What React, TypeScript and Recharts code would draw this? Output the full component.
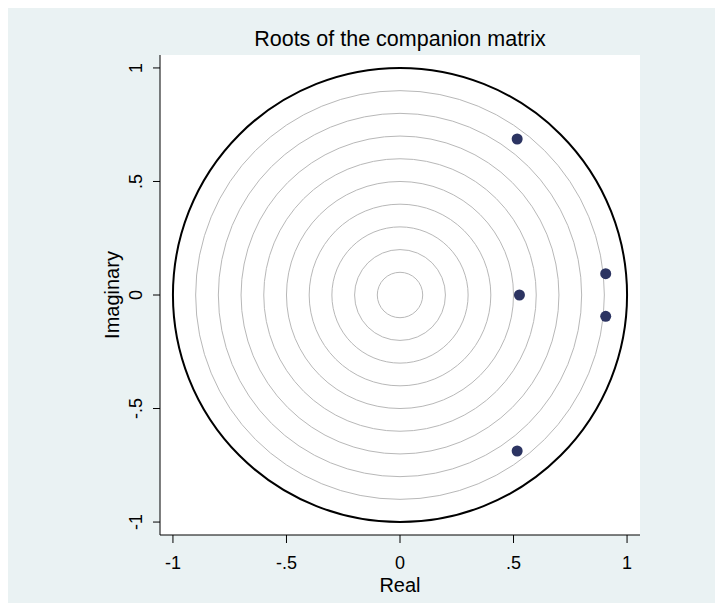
import { ScatterChart, Scatter, XAxis, YAxis, CartesianGrid, ReferenceDot } from "recharts";

// eigenvalues of the companion matrix (real / imaginary parts)
const realParts = [0.516, 0.906, 0.906, 0.526, 0.516];
const imagParts = [0.687, 0.094, -0.094, 0, -0.687];

const axisTicks = [-1, -0.5, 0, 0.5, 1];
const tickLabels = ["-1", "-.5", "0", ".5", "1"];

// grid circles and the unit circle
const ringRadii = [0.1, 0.2, 0.3, 0.4, 0.5, 0.6, 0.7, 0.8, 0.9];
const unitRadius = 1;

const roots = realParts.map((x, i) => ({ x, y: imagParts[i] }));

const W = 715;
const H = 595;
const MARGIN = { top: 47, right: 83, bottom: 0, left: 0 };
const Y_AXIS_W = 152;
const X_AXIS_H = 68;
const LIM = 1.057;
const PLOT_W = W - MARGIN.left - MARGIN.right - Y_AXIS_W;
const PX = PLOT_W / (2 * LIM); // pixels per unit on both axes

const FONT = '"Liberation Sans", Arial, Helvetica, sans-serif';
const fmt = (v: number) => tickLabels[axisTicks.indexOf(v)] ?? String(v);

function YTick(props: any) {
  const { x, y, payload } = props;
  const tx = x - 9;
  return (
    <text
      x={tx}
      y={y}
      transform={`rotate(-90 ${tx} ${y})`}
      textAnchor="middle"
      fontSize={18}
      fontFamily={FONT}
      fill="#000"
    >
      {fmt(payload.value)}
    </text>
  );
}

export default function App() {
  return (
    <div style={{ position: "relative", width: W, height: H, background: "#eaf2f3" }}>
      <div
        style={{
          position: "absolute",
          top: 21,
          left: Y_AXIS_W + PLOT_W / 2,
          transform: "translateX(-50%)",
          whiteSpace: "nowrap",
          fontFamily: FONT,
          fontSize: 21.5,
          lineHeight: "21px",
          color: "#000",
        }}
      >
        Roots of the companion matrix
      </div>
      <ScatterChart width={W} height={H} margin={MARGIN}>
        <CartesianGrid horizontal={false} vertical={false} fill="#ffffff" stroke="none" />
        <XAxis
          type="number"
          dataKey="x"
          domain={[-LIM, LIM]}
          ticks={axisTicks}
          allowDataOverflow
          height={X_AXIS_H}
          tickSize={8}
          tickMargin={13}
          tickFormatter={fmt}
          stroke="#000"
          tick={{ fontSize: 18, fill: "#000", fontFamily: FONT }}
          label={{
            content: ({ viewBox }: any) => (
              <text
                x={viewBox.x + viewBox.width / 2}
                y={viewBox.y + 57}
                textAnchor="middle"
                fontSize={20}
                fontFamily={FONT}
                fill="#000"
              >
                Real
              </text>
            ),
          }}
        />
        <YAxis
          type="number"
          dataKey="y"
          domain={[-LIM, LIM]}
          ticks={axisTicks}
          allowDataOverflow
          width={Y_AXIS_W}
          tickSize={7}
          stroke="#000"
          tick={<YTick />}
          label={{
            content: ({ viewBox }: any) => {
              const lx = 111;
              const ly = viewBox.y + viewBox.height / 2;
              return (
                <text
                  x={lx}
                  y={ly}
                  transform={`rotate(-90 ${lx} ${ly})`}
                  textAnchor="middle"
                  fontSize={20}
                  fontFamily={FONT}
                  fill="#000"
                >
                  Imaginary
                </text>
              );
            },
          }}
        />
        {ringRadii.map((rr) => (
          <ReferenceDot key={rr} x={0} y={0} r={rr * PX} fill="none" stroke="#b8b8b8" strokeWidth={1} />
        ))}
        <ReferenceDot x={0} y={0} r={unitRadius * PX} fill="none" stroke="#000" strokeWidth={2} />
        <Scatter
          data={roots}
          fill="#2c3462"
          isAnimationActive={false}
          shape={(p: any) => <circle cx={p.cx} cy={p.cy} r={5.5} fill="#2c3462" />}
        />
      </ScatterChart>
    </div>
  );
}
